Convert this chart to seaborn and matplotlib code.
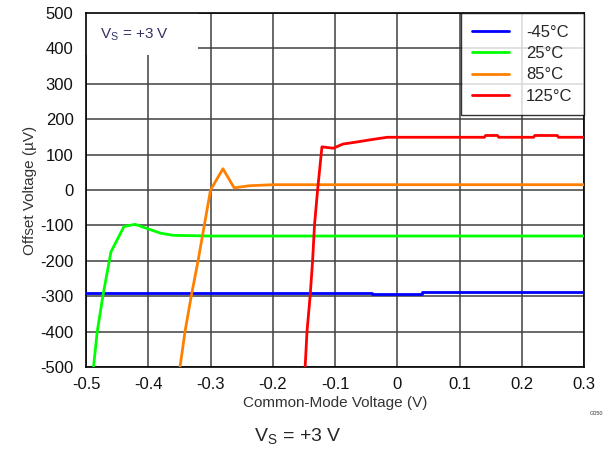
# Offset voltage vs common-mode voltage, Vs = +3 V

import pandas as pd
import matplotlib.pyplot as plt
from matplotlib.patches import Rectangle
import seaborn as sns

# 1. Data

temps = ["-45°C", "25°C", "85°C", "125°C"]
colors = ["#0000FF", "#00FF00", "#FF8000", "#FF0000"]

x_m45 = [-0.5, -0.04, -0.04, 0.04, 0.04, 0.3]
y_m45 = [-291, -291, -294, -294, -289, -289]

x_25 = [-0.488, -0.482, -0.473, -0.46, -0.439, -0.421, -0.40, -0.38, -0.36, -0.30, 0.3]
y_25 = [-500, -400, -300, -175, -103, -97, -110, -122, -128, -130, -130]

x_85 = [-0.349, -0.341, -0.331, -0.32, -0.31, -0.30, -0.28, -0.262, -0.238, -0.2, 0.3]
y_85 = [-500, -400, -300, -200, -100, 0, 60, 6, 12, 15, 15]

x_125 = [-0.148, -0.145, -0.14, -0.136, -0.133, -0.128, -0.121, -0.112, -0.103,
         -0.087, -0.071, -0.039, -0.016, 0.14, 0.142, 0.161, 0.163, 0.219, 0.221,
         0.257, 0.259, 0.3]
y_125 = [-500, -400, -300, -200, -100, 0, 122, 120, 118,
         130, 134, 143, 149, 149, 154, 154, 149, 149, 154,
         154, 149, 149]

xticks = [-0.5, -0.4, -0.3, -0.2, -0.1, 0, 0.1, 0.2, 0.3]
xtick_labels = ["-0.5", "-0.4", "-0.3", "-0.2", "-0.1", "0", "0.1", "0.2", "0.3"]
yticks = [-500, -400, -300, -200, -100, 0, 100, 200, 300, 400, 500]

frames = []
for t, xs, ys in zip(temps, [x_m45, x_25, x_85, x_125], [y_m45, y_25, y_85, y_125]):
    frames.append(pd.DataFrame({"cmv": xs, "vos": ys, "Temp": t}))
df = pd.concat(frames, ignore_index=True)

# 2. Plot

sns.set_style("white")
plt.rcParams["font.family"] = ["Liberation Sans", "DejaVu Sans"]
plt.rcParams["axes.unicode_minus"] = False

fig = plt.figure(figsize=(6.11, 4.53), dpi=100)
ax = fig.add_axes([0.1408, 0.1898, 0.815, 0.7815])

sns.lineplot(data=df, x="cmv", y="vos", hue="Temp", hue_order=temps,
             palette=colors, estimator=None, sort=False, linewidth=2.0,
             ax=ax, zorder=3)

ax.set_xlim(-0.5, 0.3)
ax.set_ylim(-500, 500)
ax.set_xticks(xticks)
ax.set_xticklabels(xtick_labels)
ax.set_yticks(yticks)
ax.grid(True, color="#404040", linewidth=1.1)
ax.set_axisbelow(True)
for s in ax.spines.values():
    s.set_color("black")
    s.set_linewidth(1.2)
ax.tick_params(length=0, labelsize=12, colors="#111111")
ax.tick_params(axis="y", pad=9)
ax.tick_params(axis="x", pad=7)

ax.set_xlabel("Common-Mode Voltage (V)", fontsize=11, color="#333333", labelpad=3)
ax.set_ylabel("Offset Voltage (µV)", fontsize=11, color="#333333", labelpad=2)

# inner annotation, white patch hides the grid behind it
ax.add_patch(Rectangle((0, 0.881), 0.225, 0.119, transform=ax.transAxes,
                       facecolor="white", edgecolor="none", zorder=2))
ax.text(0.028, 0.938, r"V$_\mathregular{S}$ = +3 V", transform=ax.transAxes,
        fontsize=11, color="#333366", va="center", ha="left", zorder=4)

leg = ax.legend(loc="upper right", frameon=True, fancybox=False,
                edgecolor="black", borderaxespad=0, fontsize=12,
                handlelength=2.2, handletextpad=1.0, labelspacing=0.38,
                borderpad=0.7)
leg.get_frame().set_linewidth(1.0)
leg.set_zorder(5)

fig.text(0.965, 0.083, "G050", fontsize=4, color="#333333", ha="left")
fig.text(0.487, 0.025, r"V$_\mathregular{S}$ = +3 V", fontsize=14, ha="center")

plt.savefig("out.png", dpi=100)
